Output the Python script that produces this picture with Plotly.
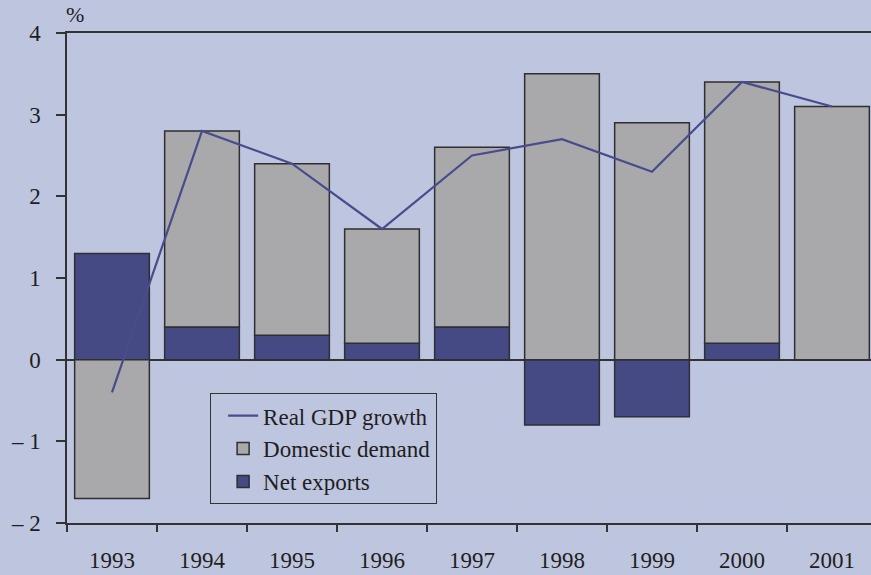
import plotly.graph_objects as go

years = ["1993", "1994", "1995", "1996", "1997", "1998", "1999", "2000", "2001"]
net_exports = [1.3, 0.4, 0.3, 0.2, 0.4, -0.8, -0.7, 0.2, 0.0]
domestic_demand = [-1.7, 2.4, 2.1, 1.4, 2.2, 3.5, 2.9, 3.2, 3.1]
real_gdp = [-0.4, 2.8, 2.4, 1.6, 2.5, 2.7, 2.3, 3.4, 3.1]
y_tickvals = [-2, -1, 0, 1, 2, 3, 4]
y_ticktext = ["\u2013 2", "\u2013 1", "0", "1", "2", "3", "4"]

bg = "#bec5df"
font_family = "Liberation Serif, Times New Roman, serif"
txt = "#1e1e1e"

fig = go.Figure()
fig.add_trace(go.Bar(
    x=years, y=net_exports, name="Net exports",
    marker=dict(color="#464a84", line=dict(color="#2e2e33", width=1.5)),
    width=0.83,
))
fig.add_trace(go.Bar(
    x=years, y=domestic_demand, name="Domestic demand",
    marker=dict(color="#a9a9ab", line=dict(color="#2e2e33", width=1.5)),
    width=0.83,
))
fig.add_trace(go.Scatter(
    x=years, y=real_gdp, name="Real GDP growth", mode="lines",
    line=dict(color="#484c8c", width=2.2),
))

fig.update_layout(
    width=871, height=575,
    paper_bgcolor=bg, plot_bgcolor=bg,
    barmode="relative",
    margin=dict(l=67, r=0, t=33, b=52),
    font=dict(family=font_family, size=23, color=txt),
    showlegend=True,
    legend=dict(
        traceorder="reversed",
        x=0.178, xanchor="left",
        y=0.265, yanchor="top",
        bgcolor=bg, bordercolor="#333333", borderwidth=1,
        indentation=12,
        tracegroupgap=0,
        font=dict(family=font_family, size=23, color=txt),
    ),
    xaxis=dict(
        type="category",
        range=[-0.5, 8.5 - 6 / 90],
        showline=True, linecolor="#333333", linewidth=1.5,
        mirror=True,
        ticks="outside", ticklen=7, tickcolor="#333333", tickwidth=1.5,
        tickson="boundaries",
        showgrid=False, zeroline=False,
        tickfont=dict(family=font_family, size=23, color=txt),
        ticklabelstandoff=16,
    ),
    yaxis=dict(
        range=[-2, 4],
        tickvals=y_tickvals, ticktext=y_ticktext,
        showline=True, linecolor="#333333", linewidth=1.5,
        ticks="outside", ticklen=9, tickcolor="#333333", tickwidth=1.5,
        showgrid=False,
        zeroline=True, zerolinecolor="#333333", zerolinewidth=1.5,
        tickfont=dict(family=font_family, size=23, color=txt),
        ticklabelstandoff=11,
    ),
    annotations=[dict(
        text="%", xref="paper", yref="paper", x=0.0, y=1.0,
        xanchor="left", yanchor="bottom", showarrow=False, xshift=-3, yshift=4,
        font=dict(family=font_family, size=22, color=txt),
    )],
)

fig.write_html(
    "out.html",
    config={"displayModeBar": False},
    post_script="document.body.style.margin='0px';document.body.style.background='" + bg + "';",
)
